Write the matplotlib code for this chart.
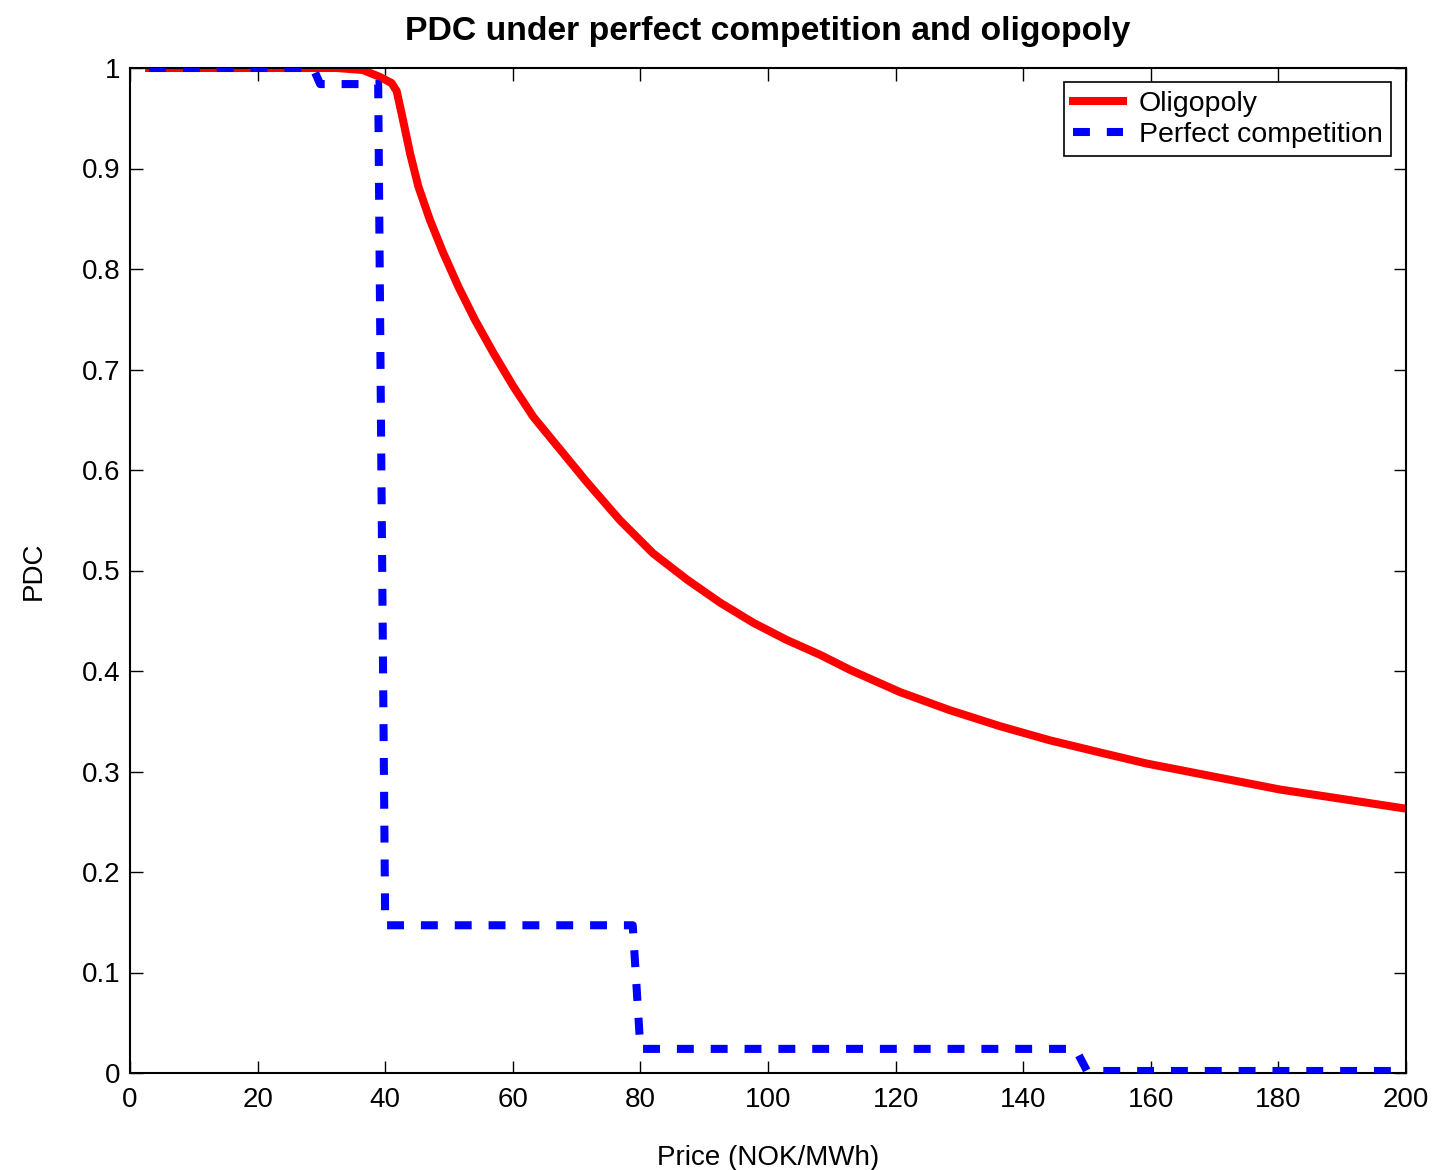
import matplotlib
matplotlib.use("Agg")
import matplotlib.pyplot as plt
from matplotlib.ticker import FixedLocator, FixedFormatter

plt.rcParams['font.family'] = ['Liberation Sans', 'DejaVu Sans']

# Oligopoly PDC
olig_price = [3, 20, 32.4, 36.5, 39.2, 41.0, 41.8, 42.8, 43.9, 45.2, 47.0, 49.1, 51.5,
              54.1, 57.0, 60.1, 63.2, 66.3, 71.6, 76.8, 82.0, 87.3, 92.5, 97.7,
              102.9, 108.2, 112.9, 120.7, 128.5, 136.4, 144.2, 152.0, 159.3,
              169.8, 180.3, 190.7, 200]
olig_pdc = [1.0, 1.0, 1.0, 0.998, 0.991, 0.985, 0.977, 0.948, 0.915, 0.882, 0.849, 0.816, 0.782,
            0.749, 0.716, 0.683, 0.653, 0.629, 0.588, 0.550, 0.517, 0.491, 0.468, 0.448,
            0.431, 0.416, 0.401, 0.379, 0.361, 0.345, 0.331, 0.319, 0.308,
            0.295, 0.282, 0.272, 0.263]

# Perfect competition PDC (step curve)
pc_price = [3, 28.7, 29.8, 38.9, 39.4, 40.0, 78.8, 80.0, 148.2, 150.0, 200]
pc_pdc = [1.0, 1.0, 0.984, 0.984, 0.60, 0.147, 0.147, 0.024, 0.024, 0.002, 0.002]

xticks = [0, 20, 40, 60, 80, 100, 120, 140, 160, 180, 200]
yticks = [0, 0.1, 0.2, 0.3, 0.4, 0.5, 0.6, 0.7, 0.8, 0.9, 1]
ytick_labels = ['0', '0.1', '0.2', '0.3', '0.4', '0.5', '0.6', '0.7', '0.8', '0.9', '1']

fig = plt.figure(figsize=(14.34, 11.70), dpi=100)
ax = fig.add_axes([130/1434, 1-1073/1170, (1406-130)/1434, (1073-68)/1170])

lw = 5.8
ax.plot(olig_price, olig_pdc, color='#ff0000', lw=lw, label='Oligopoly',
        solid_joinstyle='round', zorder=2)
ax.plot(pc_price, pc_pdc, color='#0000ff', lw=lw, label='Perfect competition',
        linestyle=(0, (2.1, 2.1)), dash_capstyle='butt', zorder=3)

ax.set_xlim(0, 200)
ax.set_ylim(0, 1)
ax.xaxis.set_major_locator(FixedLocator(xticks))
ax.yaxis.set_major_locator(FixedLocator(yticks))
ax.yaxis.set_major_formatter(FixedFormatter(ytick_labels))
ax.tick_params(direction='in', length=9, width=1, top=True, right=True,
               labelsize=20)
ax.tick_params(axis='x', pad=10)
ax.tick_params(axis='y', pad=7)
for s in ax.spines.values():
    s.set_linewidth(1.5)

ax.set_title('PDC under perfect competition and oligopoly', fontsize=24.3,
             fontweight='bold', pad=20)
ax.set_xlabel('Price (NOK/MWh)', fontsize=20, labelpad=23)
ax.set_ylabel('PDC', fontsize=20, labelpad=25)

leg = ax.legend(loc='upper right', fontsize=20.5, frameon=True, fancybox=False,
                edgecolor='black', framealpha=1, borderpad=0.3,
                handlelength=1.75, handletextpad=0.55, labelspacing=0.18,
                borderaxespad=0.0, bbox_to_anchor=(0.9882, 0.986))
leg.get_frame().set_linewidth(1.2)

fig.savefig('out.png', dpi=100)
